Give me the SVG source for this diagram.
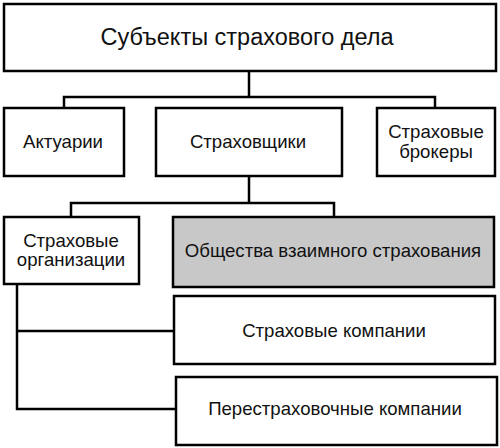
<svg xmlns="http://www.w3.org/2000/svg" width="500" height="448" viewBox="0 0 500 448">
<style>
rect{fill:#fff;stroke:#000;stroke-width:2.5}
.g{fill:#c8c8c8}
text{font-family:"Liberation Sans",Arial,sans-serif;font-size:18.6px;fill:#111;text-anchor:middle}
.t{font-size:23.5px}
#conn path{fill:none;stroke:#000;stroke-width:2.5}
</style>
<rect width="500" height="448" style="fill:#fff;stroke:none"/>
<g id="conn">
<path d="M249 71V97M64 108V97H435V108"/>
<path d="M249 176V203M71 217V203H334V217"/>
<path d="M17 284V409H176M17 331H174"/>
</g>
<g id="root"><rect x="4" y="4" width="492" height="67"/><text class="t" x="247" y="45">Субъекты страхового дела</text></g>
<g id="actuaries"><rect x="4" y="108" width="120" height="68"/><text x="63" y="148">Актуарии</text></g>
<g id="insurers"><rect x="156" y="108" width="186" height="68"/><text x="248" y="148">Страховщики</text></g>
<g id="brokers"><rect x="377" y="108" width="118" height="68"/><text x="436" y="138">Страховые</text><text x="436" y="158">брокеры</text></g>
<g id="orgs"><rect x="4" y="217" width="135" height="67"/><text x="71" y="247">Страховые</text><text x="71" y="266">организации</text></g>
<g id="mutual"><rect class="g" x="173" y="217" width="321" height="70"/><text x="333" y="257">Общества взаимного страхования</text></g>
<g id="companies"><rect x="174" y="296" width="321" height="68"/><text x="334" y="337">Страховые компании</text></g>
<g id="reinsurers"><rect x="176" y="377" width="321" height="68"/><text x="335" y="415">Перестраховочные компании</text></g>
</svg>
